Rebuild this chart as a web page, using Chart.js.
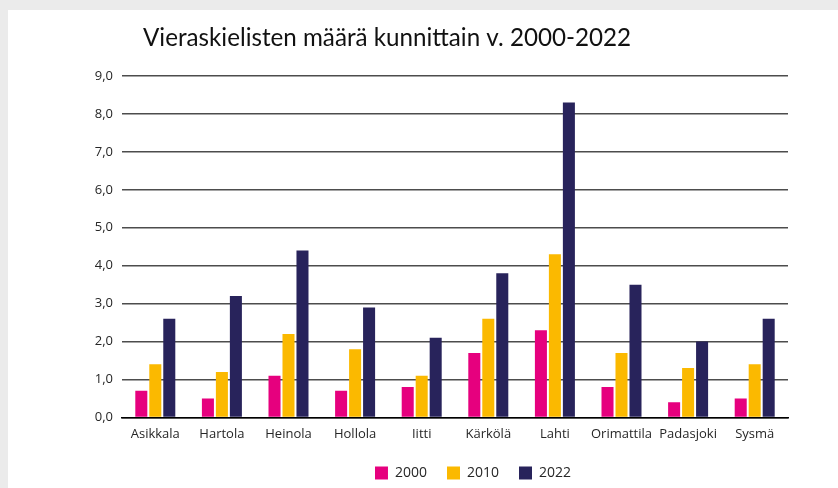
<!DOCTYPE html>
<html>
<head>
<meta charset="utf-8">
<script src="https://cdn.jsdelivr.net/npm/chart.js@4.4.0/dist/chart.umd.min.js"></script>
<style>
    html, body { margin: 0; padding: 0; background: #ebebeb; }
    #panel { position: absolute; left: 8px; top: 10px; width: 830px; height: 478px; background: #fff; }
    #chart { position: absolute; left: 0; top: 0; }
</style>
</head>
<body>
<div id="panel"></div>
<canvas id="chart" width="838" height="488"></canvas>
<script>
const kunnat = ['Asikkala', 'Hartola', 'Heinola', 'Hollola', 'Iitti', 'Kärkölä', 'Lahti', 'Orimattila', 'Padasjoki', 'Sysmä'];
const vuodet = ['2000', '2010', '2022'];
const v2000 = [0.7, 0.5, 1.1, 0.7, 0.8, 1.7, 2.3, 0.8, 0.4, 0.5];
const v2010 = [1.4, 1.2, 2.2, 1.8, 1.1, 2.6, 4.3, 1.7, 1.3, 1.4];
const v2022 = [2.6, 3.2, 4.4, 2.9, 2.1, 3.8, 8.3, 3.5, 2.0, 2.6];
const yTicks = [0, 1, 2, 3, 4, 5, 6, 7, 8, 9];

const colors = ['#e6007e', '#fbb900', '#28235b'];
const textColor = '#262626';

// title and legend are not placed where Chart.js centres them, nudge them after layout
const nudge = {
    id: 'nudge',
    afterLayout(chart) {
        const t = chart.titleBlock;
        const dt = 143 - t.left;
        t.left += dt; t.right += dt;
        const lg = chart.legend;
        const dl = 79, dy = -5;
        lg.left += dl; lg.right += dl;
        lg.top += dy; lg.bottom += dy;
    }
};

const ctx = document.getElementById('chart').getContext('2d');
const chart = new Chart(ctx, {
    type: 'bar',
    data: {
        labels: kunnat,
        datasets: [v2000, v2010, v2022].map((d, i) => ({
            label: vuodet[i],
            data: d,
            backgroundColor: colors[i],
            barPercentage: 0.86,
            categoryPercentage: 0.63
        }))
    },
    options: {
        responsive: false,
        animation: false,
        layout: { padding: { top: 10, left: 0, right: 50, bottom: -7 } },
        plugins: {
            title: {
                display: true,
                text: 'Vieraskielisten määrä kunnittain v. 2000-2022',
                align: 'start',
                color: '#111',
                font: { family: 'Lato', size: 24.2, weight: 'normal', lineHeight: 1.2 },
                padding: { top: 14, bottom: 23 }
            },
            legend: {
                position: 'bottom',
                labels: {
                    boxWidth: 13,
                    boxHeight: 13,
                    padding: 20,
                    color: textColor,
                    font: { family: 'Open Sans', size: 14 }
                }
            },
            tooltip: { enabled: false }
        },
        scales: {
            x: {
                grid: { display: false, drawTicks: false },
                border: { color: '#000', width: 1.5 },
                ticks: {
                    color: textColor,
                    padding: 9,
                    maxRotation: 0,
                    autoSkip: false,
                    font: { family: 'Open Sans', size: 13 }
                }
            },
            y: {
                min: 0,
                max: 9,
                afterFit(scale) { scale.width = 122; },
                afterBuildTicks(scale) { scale.ticks = yTicks.map(v => ({ value: v })); },
                grid: { color: '#4d4d4d', lineWidth: 1.5, drawTicks: false },
                border: { display: false },
                ticks: {
                    color: textColor,
                    padding: 9,
                    font: { family: 'Open Sans', size: 13 },
                    callback: v => v.toFixed(1).replace('.', ',')
                }
            }
        }
    },
    plugins: [nudge]
});
</script>
</body>
</html>
